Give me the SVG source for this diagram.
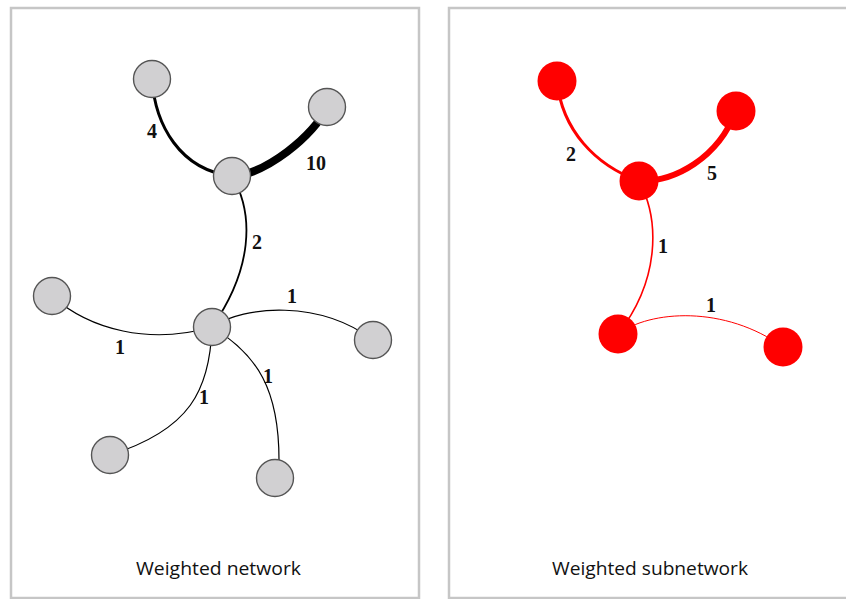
<svg xmlns="http://www.w3.org/2000/svg" width="846" height="599" viewBox="0 0 846 599">
<style>
.panel{fill:#fff;stroke:#c6c6c6;stroke-width:2.5}
.gn{fill:#d1d0d2;stroke:#555;stroke-width:1.4}
.rn{fill:#ff0000;stroke:none}
.e{fill:none;stroke-linecap:round}
.k{stroke:#000}
.r{stroke:#ff0000}
.lbl{font-family:"Liberation Serif","Times New Roman",serif;font-weight:bold;font-size:20px;fill:#111;text-anchor:middle}
.title{font-family:"Open Sans","Liberation Sans",sans-serif;font-size:18.5px;fill:#111;text-anchor:middle}
</style>
<rect width="846" height="599" fill="#fff"/>
<rect class="panel" x="11" y="8" width="408" height="590"/>
<rect class="panel" x="449" y="8" width="410" height="590"/>
<g id="connectors">
<path class="e k" d="M152,79 C155,125 180,170 232,176" stroke-width="3"/>
<path class="e k" d="M232,176 C265,175 315,135 327,107" stroke-width="8"/>
<path class="e k" d="M232,176 C255,215 252,270 212,327" stroke-width="1.8"/>
<path class="e k" d="M52,296 C90,330 150,345 212,327" stroke-width="1.2"/>
<path class="e k" d="M212,327 C245,305 320,300 373,340" stroke-width="1.2"/>
<path class="e k" d="M212,327 C210,390 190,430 110,455" stroke-width="1.2"/>
<path class="e k" d="M212,327 C258,355 279,390 279,460" stroke-width="1.2"/>
<path class="e r" d="M557,81 C562,130 595,165 639,181" stroke-width="3"/>
<path class="e r" d="M639,181 C675,182 718,158 736,111" stroke-width="6"/>
<path class="e r" d="M639,181 C660,220 660,280 618,334" stroke-width="1.6"/>
<path class="e r" d="M618,334 C650,310 725,305 783,347" stroke-width="1" stroke="#ff4040"/>
</g>
<g id="labels">
<text class="lbl" x="152" y="138">4</text>
<text class="lbl" x="316" y="170">10</text>
<text class="lbl" x="257" y="249">2</text>
<text class="lbl" x="292" y="303">1</text>
<text class="lbl" x="120" y="354">1</text>
<text class="lbl" x="204" y="404">1</text>
<text class="lbl" x="268" y="383">1</text>
<text class="lbl" x="571" y="161">2</text>
<text class="lbl" x="712" y="180">5</text>
<text class="lbl" x="663" y="253">1</text>
<text class="lbl" x="711" y="312">1</text>
</g>
<g id="n1"><circle class="gn" cx="152" cy="79" r="18.5"/></g>
<g id="n2"><circle class="gn" cx="327" cy="107" r="18.5"/></g>
<g id="n3"><circle class="gn" cx="232" cy="176" r="18.5"/></g>
<g id="n4"><circle class="gn" cx="52" cy="296" r="18.5"/></g>
<g id="n5"><circle class="gn" cx="212" cy="327" r="18.5"/></g>
<g id="n6"><circle class="gn" cx="373" cy="340" r="18.5"/></g>
<g id="n7"><circle class="gn" cx="110" cy="455" r="18.5"/></g>
<g id="n8"><circle class="gn" cx="275" cy="478" r="18.5"/></g>
<g id="r1"><circle class="rn" cx="557" cy="81" r="19.5"/></g>
<g id="r2"><circle class="rn" cx="736" cy="111" r="19.5"/></g>
<g id="r3"><circle class="rn" cx="639" cy="181" r="19.5"/></g>
<g id="r4"><circle class="rn" cx="618" cy="334" r="19.5"/></g>
<g id="r5"><circle class="rn" cx="783" cy="347" r="19.5"/></g>
<text class="title" x="218.5" y="575" textLength="165" lengthAdjust="spacingAndGlyphs">Weighted network</text>
<text class="title" x="650" y="575" textLength="196" lengthAdjust="spacingAndGlyphs">Weighted subnetwork</text>
</svg>
